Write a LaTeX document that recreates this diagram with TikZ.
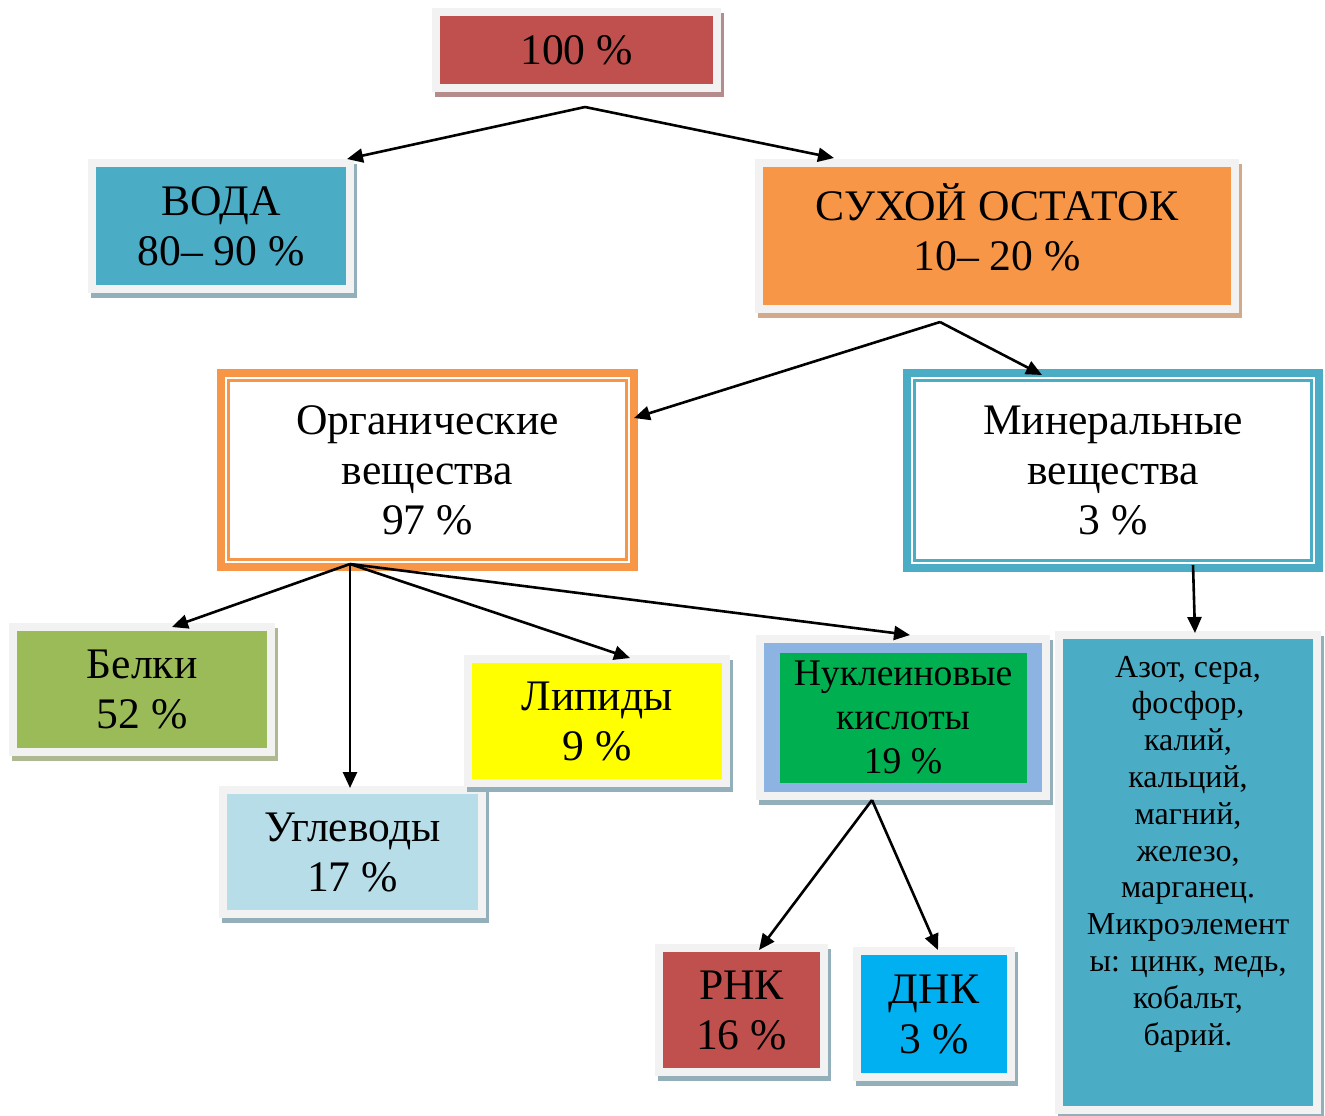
\documentclass[tikz,border=0pt]{standalone}
\usepackage{fontspec}
\setmainfont{Liberation Serif}
\usepackage{tikz}
\usetikzlibrary{positioning}
\usetikzlibrary{arrows.meta}
\usetikzlibrary{calc}

\definecolor{framegray}{HTML}{F2F2F2}
\definecolor{cred}{HTML}{C0504D}
\definecolor{cblue}{HTML}{4BACC6}
\definecolor{corange}{HTML}{F79646}
\definecolor{cgreen}{HTML}{9BBB59}
\definecolor{clight}{HTML}{B7DEE8}
\definecolor{cyellow}{HTML}{FFFF00}
\definecolor{cband}{HTML}{8DB3E2}
\definecolor{cnucl}{HTML}{00B050}
\definecolor{cdnk}{HTML}{00B0F0}
\definecolor{shred}{HTML}{B48C8C}
\definecolor{shblue}{HTML}{93AFBA}
\definecolor{shorange}{HTML}{D2AA8A}
\definecolor{shgreen}{HTML}{AEB891}

\newcommand{\bigtext}{\fontsize{21.8}{25}\selectfont}
\newcommand{\midtext}{\fontsize{18.8}{22.2}\selectfont}
\newcommand{\smalltext}{\fontsize{16}{18.4}\selectfont}

\begin{document}
\begin{tikzpicture}[ x = 0.5pt, y = -0.5pt
                   , >={Triangle[length=8pt, width=7pt]}
                   , every node/.style = { rectangle
                                         , align = center
                                         , inner sep = 0pt
                                         , font = \bigtext }
                   ]
  \useasboundingbox (0,0) rectangle (1325,1115);

  %%
  %% Nodes
  %%
  \tikzset{ box/.style={draw=framegray, line width=4pt, outer sep=2pt}
          , boxshadow/.style={preaction={draw=#1, line width=4pt,
                              transform canvas={shift={(1.5pt,-2.5pt)}}}}
          , dims/.style 2 args={minimum width={#1*0.5pt}, minimum height={#2*0.5pt}}
          , dbl/.style={draw=#1, line width=4pt, outer sep=2pt, fill=white,
                        path picture={\draw[#1, line width=1.5pt]
                          ([shift={(3.75pt,-3.75pt)}]path picture bounding box.north west) rectangle
                          ([shift={(-3.75pt,3.75pt)}]path picture bounding box.south east);}}
          , link/.style={->, line width=1.3pt, black}
          }

  \node (top100) [box, boxshadow=shred, fill=cred, dims={281}{76}] at (576.5,50) {100 \%};
  \node (voda) [box, boxshadow=shblue, fill=cblue, dims={258}{126}] at (221,226) {ВОДА\\80– 90 \%};
  \node (suhoi) [box, boxshadow=shorange, fill=corange, dims={476}{146}, text depth=9pt]
        at (997,236) {СУХОЙ ОСТАТОК\\10– 20 \%};
  \node (organ) [dbl=corange, dims={413}{194}] at (427.5,470) {Органические\\вещества\\97 \%};
  \node (miner) [dbl=cblue, dims={412}{195}] at (1113,470.5) {Минеральные\\вещества\\3 \%};
  \node (belki) [box, boxshadow=shgreen, fill=cgreen, dims={258}{125}] at (142,689.5) {Белки\\52 \%};
  \node (ugl) [box, boxshadow=shblue, fill=clight, dims={259}{124}] at (352.5,852) {Углеводы\\17 \%};
  \node (lip) [box, boxshadow=shblue, fill=cyellow, dims={258}{124}] at (597,721) {Липиды\\9 \%};
  \node (nucl) [box, boxshadow=shblue, fill=cband, dims={286}{157}, font=\midtext,
                path picture={\fill[cnucl]
                  ([shift={(10pt,-7pt)}]path picture bounding box.north west) rectangle
                  ([shift={(-9.5pt,6.5pt)}]path picture bounding box.south east);}]
        at (903,717.5) {Нуклеиновые\\кислоты\\19 \%};
  \node (azot) [box, boxshadow=shblue, fill=cblue, dims={258}{475}, font=\smalltext, text depth=22pt]
        at (1188,872.5) {Азот, сера,\\фосфор,\\калий,\\кальций,\\магний,\\железо,\\марганец.\\
                         Микроэлемент\\ы: цинк, медь,\\кобальт,\\барий.};
  \node (rnk) [box, boxshadow=shblue, fill=cred, dims={165}{124}] at (741.5,1010) {РНК\\16 \%};
  \node (dnk) [box, boxshadow=shblue, fill=cdnk, dims={154}{126}] at (934,1014) {ДНК\\3 \%};

  %%
  %% Arrows
  %%
  \coordinate (s100) at ($(top100.south)+(8.5,15)$);
  \coordinate (ssuh) at ($(suhoi.south)+(-57,9)$);
  \coordinate (sorg) at ($(organ.south)+(-77.5,-7)$);
  \coordinate (smin) at ($(miner.south)+(80,-7)$);
  \coordinate (snuc) at ($(nucl.south)+(-31,0)$);

  % Top level.
  \draw[link] (s100) -- ($(voda.north east)+(-7,0)$);
  \draw[link] (s100) -- ($(suhoi.north west)+(79,-1)$);
  % Dry residue.
  \draw[link] (ssuh) -- ($(organ.north east)+(-4,49)$);
  \draw[link] (ssuh) -- ($(miner.north west)+(139,6)$);
  % Organic substances.
  \draw[link] (sorg) -- ($(belki.north)+(30,4)$);
  \draw[link] (sorg) -- ($(ugl.north)+(-2.5,2)$);
  \draw[link] (sorg) -- ($(lip.north)+(33,3)$);
  \draw[link] (sorg) -- ($(nucl.north)+(7,0)$);
  % Minerals and nucleic acids.
  \draw[link] (smin) -- ($(azot.north)+(7,2)$);
  \draw[link] (snuc) -- ($(rnk.north)+(17.5,6)$);
  \draw[link] (snuc) -- ($(dnk.north)+(4,3)$);
\end{tikzpicture}
\end{document}
